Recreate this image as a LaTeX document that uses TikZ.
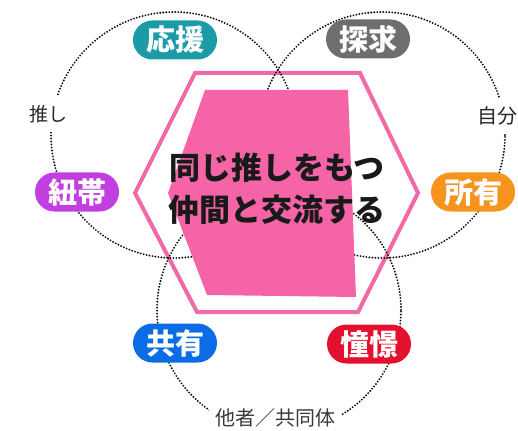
\documentclass[tikz,border=0pt]{standalone}
\usepackage{fontspec}
\newfontfamily\cjk{Noto Sans CJK JP}
\definecolor{hexpink}{HTML}{F06AA8}
\definecolor{quadpink}{HTML}{F464A6}
\definecolor{cteal}{HTML}{1A9BA6}
\definecolor{cgrey}{HTML}{6E6E6E}
\definecolor{cpurple}{HTML}{C13FE0}
\definecolor{corange}{HTML}{F7941D}
\definecolor{cblue}{HTML}{0B6CE6}
\definecolor{cred}{HTML}{E3102E}
\definecolor{dotcol}{HTML}{111111}
\definecolor{txtgrey}{HTML}{3A3A3A}
\tikzset{
  dots/.style={draw=dotcol, line width=2.1pt, dash pattern=on 0pt off 3pt, line cap=round},
  hexline/.style={draw=hexpink, line width=4pt, line join=miter, fill=white},
  pill/.style={rounded corners=19.5pt, minimum width=84pt, minimum height=39pt, inner sep=0pt,
    text=white, font=\cjk\bfseries\fontsize{29}{29}\selectfont},
  small/.style={fill=white, text=black!85, font=\cjk\fontsize{19}{19}\selectfont, inner xsep=2pt, inner ysep=9pt},
  centertxt/.style={text=black!90, font=\cjk\bfseries\fontsize{31}{31}\selectfont, inner sep=0pt}
}
\begin{document}
\begin{tikzpicture}[x=1pt, y=-1pt]
\useasboundingbox (0,0) rectangle (518,430);
% hexagon
\draw[hexline] (195,73) -- (360,73) -- (418,193) -- (358,312) -- (197,312) -- (135,193) -- cycle;
% circles
\draw[dots] (174,135) circle (123pt);
\draw[dots] (382,135) circle (123pt);
\draw[dots] (279,310) circle (122pt);
% pink block
\fill[quadpink] (205,90) -- (348,90) -- (356,297) -- (207,295) -- (168,193) -- cycle;
% center text
\node[centertxt] (t1) at (277,168) {同じ推しをもつ};
\node[centertxt] (t2) at (277,210) {仲間と交流する};
% pills
\node[pill, fill=cteal] (p1) at (175,40) {応援};
\node[pill, fill=cgrey] (p2) at (368,39) {探求};
\node[pill, fill=cpurple] (p3) at (77,192) {紐帯};
\node[pill, fill=corange] (p4) at (473,192) {所有};
\node[pill, fill=cblue] (p5) at (175,343) {共有};
\node[pill, fill=cred] (p6) at (369,344) {憧憬};
% circle labels
\node[small] (l1) at (48.5,114) {推し};
\node[small, anchor=west, font=\cjk\fontsize{20}{20}\selectfont] (l2) at (475,116) {自分};
\node[small, text=txtgrey, font=\cjk\fontsize{20}{20}\selectfont, inner xsep=6pt, inner ysep=8pt] (l3) at (275,418) {他者／共同体};
\end{tikzpicture}
\end{document}
